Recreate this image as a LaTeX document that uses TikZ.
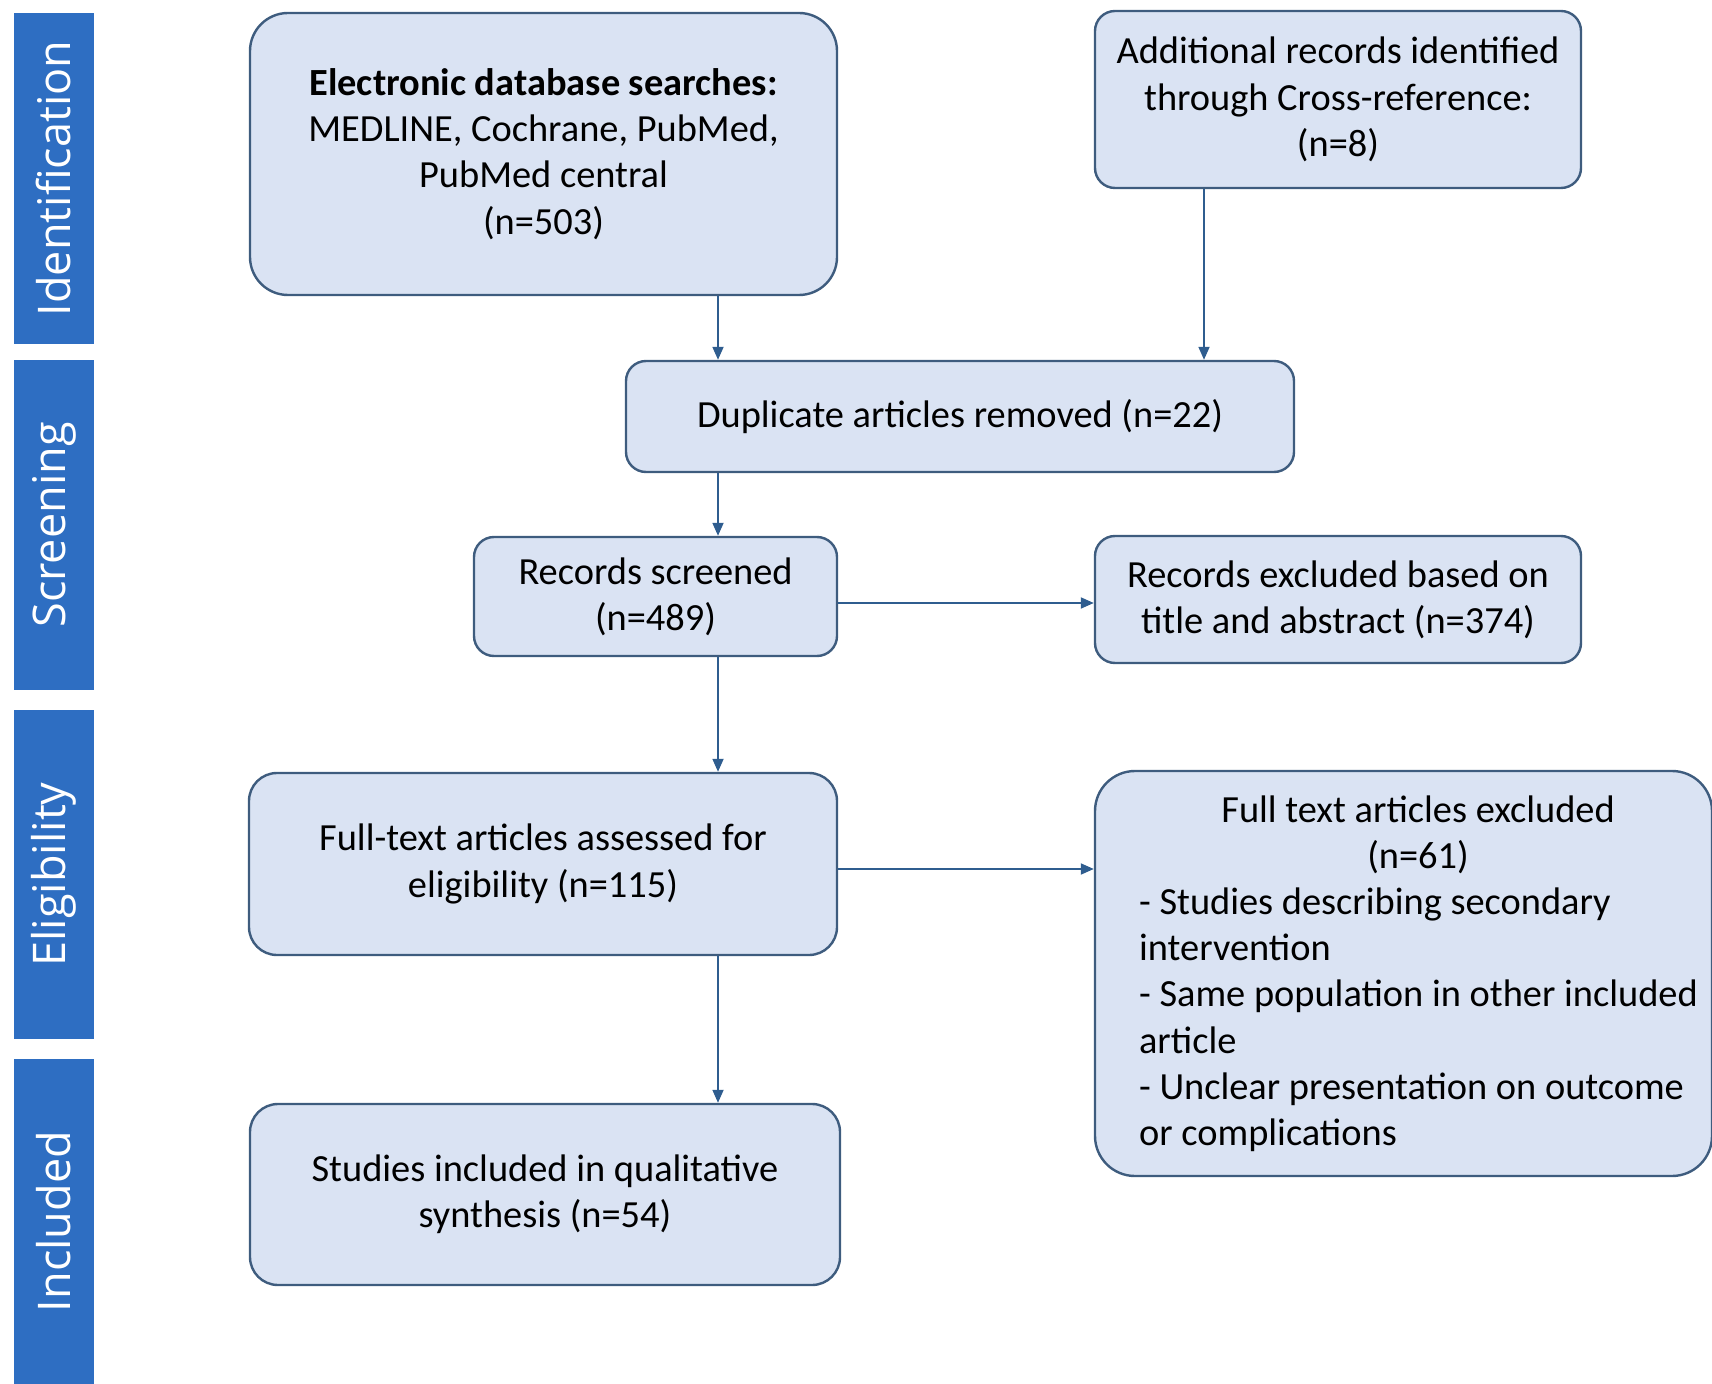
\documentclass[tikz,border=0pt]{standalone}
\usepackage{fontspec}
\setmainfont{Carlito}
\newfontfamily\fasefont{Open Sans}
\usetikzlibrary{positioning,arrows.meta,calc}
\definecolor{azul}{HTML}{2E6EC2}
\definecolor{fundo}{HTML}{DAE3F3}
\definecolor{borda}{HTML}{3E5C7E}
\definecolor{setacor}{HTML}{2F5D8F}
\newcommand{\recuo}{\hspace*{15pt}}

\begin{document}
\begin{tikzpicture}[x=0.5pt,y=-0.5pt,
  fase/.style={fill=azul,text=white,rotate=90,minimum height=40pt,inner sep=0pt,font=\fasefont\fontsize{22.5}{26}\selectfont},
  caixa/.style={draw=borda,fill=fundo,line width=1.2pt,rounded corners=10pt,align=center,inner sep=0pt,font=\fontsize{19.2}{23.1}\selectfont},
  seta/.style={draw=setacor,line width=0.9pt,-{Triangle[length=6.5pt,width=5.5pt]}}]
\useasboundingbox (0,0) rectangle (1712,1384);
% fases
\foreach \y/\h/\lab/\nome in {178.5/331/Identification/f1,525/330/Screening/f2,874.5/329/Eligibility/f3,1221.5/325/Included/f4}
  \node[fase,minimum width=\h*0.5pt] (\nome) at (54,\y) {\lab};
% caixas
\node[caixa,minimum width=293.5pt,minimum height=141pt,rounded corners=19pt] (busca) at (543.5,154) {\textbf{Electronic database searches:}\\MEDLINE, Cochrane, PubMed,\\PubMed central\\(n=503)};
\node[caixa,minimum width=243pt,minimum height=88.5pt] (extra) at (1338,99.5) {Additional records identified\\through Cross-reference:\\(n=8)};
\node[caixa,minimum width=334pt,minimum height=55.5pt] (dup) at (960,416.5) {Duplicate articles removed (n=22)};
\node[caixa,minimum width=181.5pt,minimum height=59.5pt] (triagem) at (655.5,596.5) {Records screened\\(n=489)};
\node[caixa,minimum width=243pt,minimum height=63.5pt] (excl) at (1338,599.5) {Records excluded based on\\title and abstract (n=374)};
\node[caixa,minimum width=294pt,minimum height=91pt,rounded corners=14pt] (completo) at (543,864) {Full-text articles assessed for\\eligibility (n=115)};
\node[caixa,minimum width=308.5pt,minimum height=202.5pt,rounded corners=20pt,align=left] (exclft) at (1403.5,973.5) {%
  \recuo\makebox[279pt]{Full text articles excluded}\\
  \recuo\makebox[279pt]{(n=61)}\\
  \recuo- Studies describing secondary\\
  \recuo intervention\\
  \recuo- Same population in other included\\
  \recuo article\\
  \recuo- Unclear presentation on outcome\\
  \recuo or complications};
\node[caixa,minimum width=295pt,minimum height=90.5pt,rounded corners=14pt] (incl) at (545,1194.5) {Studies included in qualitative\\synthesis (n=54)};
% setas
\coordinate (colA) at (718,0);
\coordinate (colB) at (1204,0);
\draw[seta] (busca.south -| colA) -- (dup.north -| colA);
\draw[seta] (extra.south -| colB) -- (dup.north -| colB);
\draw[seta] (dup.south -| colA) -- (triagem.north -| colA);
\draw[seta] (triagem.south -| colA) -- (completo.north -| colA);
\draw[seta] (completo.south -| colA) -- (incl.north -| colA);
\draw[seta] ($(triagem.east)+(0,6.5)$) -- ($(triagem.east -| excl.west)+(0,6.5)$);
\draw[seta] ($(completo.east)+(0,5)$) -- ($(completo.east -| exclft.west)+(0,5)$);
\end{tikzpicture}
\end{document}
